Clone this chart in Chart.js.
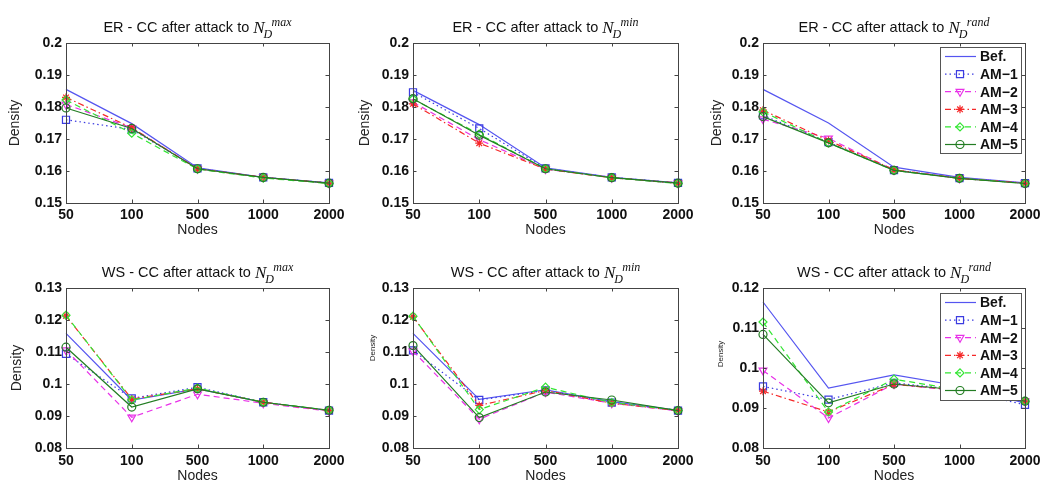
<!DOCTYPE html>
<html><head><meta charset="utf-8">
<script src="https://cdn.jsdelivr.net/npm/chart.js@4.4.1/dist/chart.umd.min.js"></script>
<style>
html,body{margin:0;padding:0;background:#fff;}
#wrap{position:relative;width:1041px;height:485px;overflow:hidden;background:#fff;}
canvas{position:absolute;}
</style></head><body><div id="wrap">
<canvas id="c1"></canvas><canvas id="c2"></canvas><canvas id="c3"></canvas>
<canvas id="c4"></canvas><canvas id="c5"></canvas><canvas id="c6"></canvas>
</div>
<script>
// ---- categories / ticks ----
const nodes = ['50', '100', '500', '1000', '2000'];
const seriesNames = ['Bef.', 'AM\u22121', 'AM\u22122', 'AM\u22123', 'AM\u22124', 'AM\u22125'];
const erTicks = [0.15, 0.16, 0.17, 0.18, 0.19, 0.2];
const wsTicks = [0.08, 0.09, 0.1, 0.11, 0.12, 0.13];
const wsRandTicks = [0.08, 0.09, 0.1, 0.11, 0.12];

// ---- ER - attack to N_D^max ----
const erMaxBef = [0.1855, 0.1748, 0.1610, 0.1580, 0.1563];
const erMaxAM1 = [0.1760, 0.1730, 0.1608, 0.1580, 0.1563];
const erMaxAM2 = [0.1808, 0.1735, 0.1607, 0.1580, 0.1562];
const erMaxAM3 = [0.1830, 0.1735, 0.1607, 0.1580, 0.1562];
const erMaxAM4 = [0.1822, 0.1718, 0.1606, 0.1578, 0.1561];
const erMaxAM5 = [0.1797, 0.1733, 0.1607, 0.1580, 0.1562];

// ---- ER - attack to N_D^min ----
const erMinBef = [0.1852, 0.1745, 0.1610, 0.1580, 0.1563];
const erMinAM1 = [0.1846, 0.1733, 0.1608, 0.1580, 0.1563];
const erMinAM2 = [0.1815, 0.1698, 0.1606, 0.1579, 0.1562];
const erMinAM3 = [0.1810, 0.1687, 0.1606, 0.1579, 0.1562];
const erMinAM4 = [0.1825, 0.1715, 0.1607, 0.1579, 0.1561];
const erMinAM5 = [0.1826, 0.1712, 0.1607, 0.1579, 0.1562];

// ---- ER - attack to N_D^rand ----
const erRandBef = [0.1855, 0.1750, 0.1612, 0.1580, 0.1563];
const erRandAM1 = [0.1774, 0.1690, 0.1603, 0.1578, 0.1562];
const erRandAM2 = [0.1762, 0.1702, 0.1603, 0.1577, 0.1562];
const erRandAM3 = [0.1790, 0.1695, 0.1604, 0.1577, 0.1562];
const erRandAM4 = [0.1785, 0.1688, 0.1602, 0.1577, 0.1561];
const erRandAM5 = [0.1770, 0.1688, 0.1602, 0.1577, 0.1561];

// ---- WS - attack to N_D^max ----
const wsMaxBef = [0.1158, 0.0950, 0.0985, 0.0943, 0.0917];
const wsMaxAM1 = [0.1094, 0.0955, 0.0990, 0.0943, 0.0917];
const wsMaxAM2 = [0.1106, 0.0896, 0.0968, 0.0940, 0.0915];
const wsMaxAM3 = [0.1213, 0.0953, 0.0985, 0.0943, 0.0917];
const wsMaxAM4 = [0.1215, 0.0950, 0.0987, 0.0943, 0.0918];
const wsMaxAM5 = [0.1115, 0.0928, 0.0985, 0.0943, 0.0918];

// ---- WS - attack to N_D^min ----
const wsMinBef = [0.1158, 0.0952, 0.0982, 0.0945, 0.0918];
const wsMinAM1 = [0.1105, 0.0950, 0.0980, 0.0942, 0.0917];
const wsMinAM2 = [0.1103, 0.0890, 0.0975, 0.0940, 0.0916];
const wsMinAM3 = [0.1210, 0.0933, 0.0980, 0.0940, 0.0917];
const wsMinAM4 = [0.1212, 0.0920, 0.0990, 0.0942, 0.0918];
const wsMinAM5 = [0.1120, 0.0895, 0.0975, 0.0950, 0.0917];

// ---- WS - attack to N_D^rand ----
const wsRandBef = [0.1165, 0.0950, 0.0983, 0.0955, 0.0912];
const wsRandAM1 = [0.0954, 0.0921, 0.0963, 0.0945, 0.0908];
const wsRandAM2 = [0.0994, 0.0875, 0.0960, 0.0942, 0.0917];
const wsRandAM3 = [0.0942, 0.0890, 0.0959, 0.0945, 0.0917];
const wsRandAM4 = [0.1115, 0.0890, 0.0972, 0.0945, 0.0917];
const wsRandAM5 = [0.1084, 0.0913, 0.0960, 0.0945, 0.0917];

// ---- styles ----
const SANS = '"Liberation Sans", Arial, Helvetica, sans-serif';
const SERIF = '"Liberation Serif", "DejaVu Serif", "Times New Roman", serif';
const lineStyles = [
  {color: 'rgb(85,85,240)',  dash: [],             point: false},
  {color: 'rgb(60,60,225)',  dash: [1.5, 3],       point: 'rect',     radius: 5},
  {color: 'rgb(232,50,232)', dash: [6, 4],         point: 'triangle', radius: 4.5, rot: 180},
  {color: 'rgb(245,40,40)',  dash: [6, 3, 1.5, 3], point: 'star',     radius: 4},
  {color: 'rgb(50,230,50)',  dash: [6, 4],         point: 'rectRot',  radius: 4},
  {color: 'rgb(35,125,35)',  dash: [],             point: 'circle',   radius: 4}
];

function drawMarker(ctx, ds, x, y) {
  if (!ds.pointStyle) return;
  ctx.save();
  ctx.setLineDash([]);
  ctx.strokeStyle = ds.pointBorderColor;
  ctx.fillStyle = 'rgba(0,0,0,0)';
  ctx.lineWidth = ds.pointBorderWidth;
  Chart.helpers.drawPoint(ctx, {pointStyle: ds.pointStyle, rotation: ds.pointRotation || 0,
    radius: ds.pointRadius, borderWidth: ds.pointBorderWidth}, x, y);
  ctx.restore();
}

const deco = {
  id: 'panelDeco',
  afterDatasetsDraw(chart, args, o) {
    const ctx = chart.ctx, ca = chart.chartArea;
    ctx.save();
    // box
    ctx.strokeStyle = '#444';
    ctx.lineWidth = 1;
    ctx.strokeRect(Math.round(ca.left) + 0.5, Math.round(ca.top) + 0.5,
      Math.round(ca.right - ca.left), Math.round(ca.bottom - ca.top));
    // inward ticks
    const tl = 3.5;
    ctx.beginPath();
    const xs = chart.scales.x, ys = chart.scales.y;
    xs.ticks.forEach((t, i) => {
      if (i === 0 || i === xs.ticks.length - 1) return;
      const px = Math.round(xs.getPixelForTick(i)) + 0.5;
      ctx.moveTo(px, ca.bottom); ctx.lineTo(px, ca.bottom - tl);
      ctx.moveTo(px, ca.top); ctx.lineTo(px, ca.top + tl);
    });
    ys.ticks.forEach((t, i) => {
      if (i === 0 || i === ys.ticks.length - 1) return;
      const py = Math.round(ys.getPixelForValue(t.value)) + 0.5;
      ctx.moveTo(ca.left, py); ctx.lineTo(ca.left + tl, py);
      ctx.moveTo(ca.right, py); ctx.lineTo(ca.right - tl, py);
    });
    ctx.stroke();
    // legend
    if (o.legend) {
      const bw = 81, bh = o.legendH;
      const bx = Math.round(ca.right - 4 - bw), by = Math.round(ca.top + o.legendDy);
      ctx.fillStyle = '#fff';
      ctx.fillRect(bx, by, bw, bh);
      ctx.strokeStyle = '#555';
      ctx.strokeRect(bx + 0.5, by + 0.5, bw, bh);
      chart.data.datasets.forEach((ds, i) => {
        const yy = by + 9.5 + i * 17.6;
        ctx.save();
        ctx.strokeStyle = ds.borderColor;
        ctx.lineWidth = ds.borderWidth;
        ctx.setLineDash(ds.borderDash || []);
        ctx.beginPath(); ctx.moveTo(bx + 5, yy); ctx.lineTo(bx + 36, yy); ctx.stroke();
        ctx.restore();
        if (ds.pointRadius > 0) drawMarker(ctx, ds, bx + 20, yy);
        ctx.fillStyle = '#111';
        ctx.font = 'bold 14px ' + SANS;
        ctx.textBaseline = 'middle';
        ctx.textAlign = 'left';
        ctx.fillText(ds.label, bx + 40, yy + 1);
      });
    }
    ctx.restore();
  },
  afterDraw(chart, args, o) {
    const ctx = chart.ctx, ca = chart.chartArea;
    ctx.save();
    ctx.fillStyle = '#111';
    ctx.textBaseline = 'alphabetic';
    ctx.textAlign = 'left';
    // title with math part
    const fMain = '14.5px ' + SANS, fN = 'italic 17px ' + SERIF, fS = 'italic 12px ' + SERIF;
    ctx.font = fMain; const w1 = ctx.measureText(o.prefix).width;
    ctx.font = fN; const wN = ctx.measureText('N').width;
    ctx.font = fS; const wSup = ctx.measureText(o.sup).width; const wSub = ctx.measureText('D').width;
    const total = w1 + wN + Math.max(wSub - 1, 7 + wSup);
    const x0 = (ca.left + ca.right) / 2 - total / 2;
    ctx.font = fMain; ctx.fillText(o.prefix, x0, 31.5);
    ctx.font = fN; ctx.fillText('N', x0 + w1, 33);
    ctx.font = fS; ctx.fillText('D', x0 + w1 + wN - 1, 37.5);
    ctx.fillText(o.sup, x0 + w1 + wN + 7, 25.5);
    // y-axis title
    ctx.translate(o.yTitle.x, o.yTitle.y == null ? (ca.top + ca.bottom) / 2 : o.yTitle.y);
    ctx.rotate(-Math.PI / 2);
    ctx.font = o.yTitle.size + 'px ' + SANS;
    ctx.fillStyle = '#222';
    ctx.textAlign = 'center';
    ctx.textBaseline = 'middle';
    ctx.fillText('Density', 0, 0);
    ctx.restore();
  }
};

const cols = [
  {x: 0,   w: 360, plotLeft: 66, plotRight: 329},
  {x: 340, w: 360, plotLeft: 73, plotRight: 338},
  {x: 690, w: 351, plotLeft: 73, plotRight: 335}
];
const rows = [
  {y: 0,   h: 245, xPad: 4, nodesPad: 6.6},
  {y: 245, h: 240, xPad: 5, nodesPad: 0}
];

const panels = [
  {id: 'c1', col: 0, row: 0, prefix: 'ER - CC after attack to ', sup: 'max',  ticks: erTicks,
   series: [erMaxBef, erMaxAM1, erMaxAM2, erMaxAM3, erMaxAM4, erMaxAM5], yTitle: {x: 15, size: 14}},
  {id: 'c2', col: 1, row: 0, prefix: 'ER - CC after attack to ', sup: 'min',  ticks: erTicks,
   series: [erMinBef, erMinAM1, erMinAM2, erMinAM3, erMinAM4, erMinAM5], yTitle: {x: 25, size: 14}},
  {id: 'c3', col: 2, row: 0, prefix: 'ER - CC after attack to ', sup: 'rand', ticks: erTicks,
   series: [erRandBef, erRandAM1, erRandAM2, erRandAM3, erRandAM4, erRandAM5], yTitle: {x: 27, size: 14},
   legend: true, legendDy: 4, legendH: 106},
  {id: 'c4', col: 0, row: 1, prefix: 'WS - CC after attack to ', sup: 'max',  ticks: wsTicks,
   series: [wsMaxBef, wsMaxAM1, wsMaxAM2, wsMaxAM3, wsMaxAM4, wsMaxAM5], yTitle: {x: 17, size: 14}},
  {id: 'c5', col: 1, row: 1, prefix: 'WS - CC after attack to ', sup: 'min',  ticks: wsTicks,
   series: [wsMinBef, wsMinAM1, wsMinAM2, wsMinAM3, wsMinAM4, wsMinAM5], yTitle: {x: 33, y: 103, size: 8}},
  {id: 'c6', col: 2, row: 1, prefix: 'WS - CC after attack to ', sup: 'rand', ticks: wsRandTicks,
   series: [wsRandBef, wsRandAM1, wsRandAM2, wsRandAM3, wsRandAM4, wsRandAM5], yTitle: {x: 31, y: 109, size: 8},
   legend: true, legendDy: 5, legendH: 107}
];

panels.forEach(p => {
  const c = cols[p.col], r = rows[p.row];
  const cv = document.getElementById(p.id);
  cv.width = c.w; cv.height = r.h;
  cv.style.left = c.x + 'px'; cv.style.top = r.y + 'px';
  cv.style.width = c.w + 'px'; cv.style.height = r.h + 'px';
  const datasets = p.series.map((vals, i) => {
    const s = lineStyles[i];
    return {
      label: seriesNames[i], data: vals,
      borderColor: s.color, backgroundColor: s.color, borderWidth: 1.2, borderDash: s.dash,
      pointStyle: s.point || 'circle', pointRadius: s.point ? s.radius : 0, pointRotation: s.rot || 0,
      pointBorderColor: s.color, pointBackgroundColor: 'rgba(0,0,0,0)', pointBorderWidth: 1.2,
      pointHoverRadius: 0, tension: 0, fill: false, clip: false, order: 6 - i
    };
  });
  new Chart(cv, {
    type: 'line',
    data: {labels: nodes, datasets},
    options: {
      responsive: false, animation: false, devicePixelRatio: 1,
      events: [],
      layout: {padding: {left: 0, top: 43, right: c.w - c.plotRight, bottom: 0}},
      plugins: {
        legend: {display: false}, title: {display: false}, tooltip: {enabled: false},
        panelDeco: {prefix: p.prefix, sup: p.sup, yTitle: p.yTitle, legend: !!p.legend,
                    legendDy: p.legendDy, legendH: p.legendH}
      },
      scales: {
        x: {
          type: 'category', offset: false,
          grid: {display: false, drawTicks: false}, border: {display: false},
          ticks: {font: {family: SANS, size: 14, weight: 'bold'}, color: '#111', padding: r.xPad,
                  maxRotation: 0, minRotation: 0, autoSkip: false},
          title: {display: true, text: 'Nodes', font: {family: SANS, size: 14}, color: '#222',
                  padding: {top: 0, bottom: r.nodesPad}},
          afterFit: s => { s.height = r.h - 203; s.paddingLeft = 0; s.paddingRight = 0; }
        },
        y: {
          type: 'linear', min: p.ticks[0], max: p.ticks[p.ticks.length - 1],
          grid: {display: false, drawTicks: false}, border: {display: false},
          afterBuildTicks: s => { s.ticks = p.ticks.map(v => ({value: v})); },
          ticks: {font: {family: SANS, size: 14, weight: 'bold'}, color: '#111', padding: 4,
                  callback: v => String(+Number(v).toFixed(3))},
          afterFit: s => { s.width = c.plotLeft; s.paddingTop = 0; s.paddingBottom = 0; }
        }
      }
    },
    plugins: [deco]
  });
});
</script>
</body></html>
